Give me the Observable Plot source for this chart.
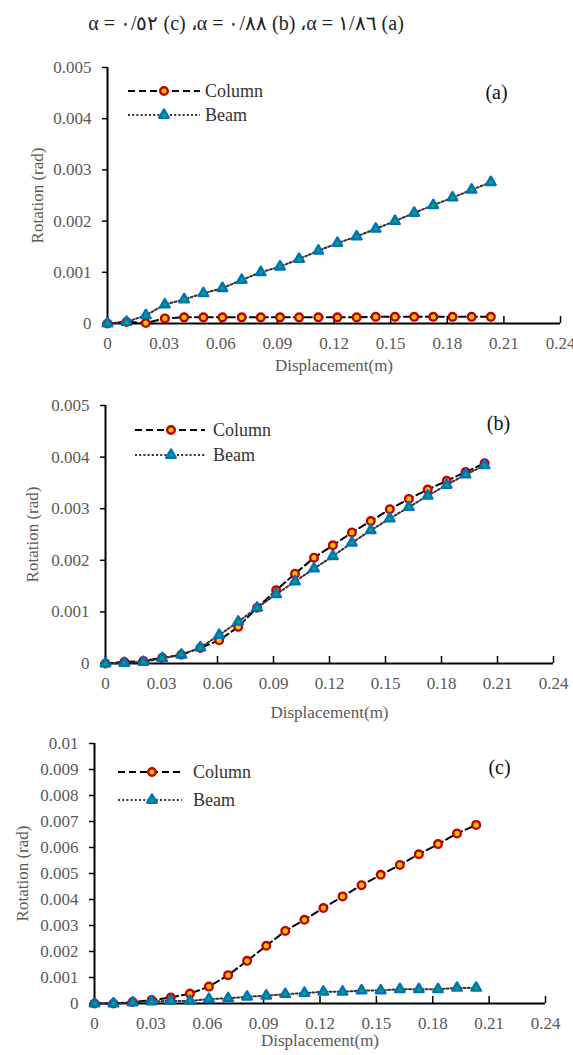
<!DOCTYPE html>
<html>
<head>
<meta charset="utf-8">
<script src="https://cdn.jsdelivr.net/npm/d3@7"></script>
<script src="https://cdn.jsdelivr.net/npm/@observablehq/plot@0.6"></script>
<style>
  html, body { margin: 0; padding: 0; background: #fff; }
  body { width: 573px; height: 1055px; position: relative; overflow: hidden; font-family: "Liberation Serif", "Times New Roman", serif; }
  #title { position: absolute; left: 0; top: 11px; width: 492px; text-align: center; font-size: 20px; color: #222; direction: ltr; unicode-bidi: bidi-override; white-space: nowrap; font-family: "Liberation Serif", "Times New Roman", "DejaVu Serif", serif; }
  .panel { position: absolute; left: 0; }
  .panel svg { overflow: visible; font-family: "Liberation Serif", "Times New Roman", serif !important; }
  .panel svg text { font-family: "Liberation Serif", "Times New Roman", serif !important; }
</style>
</head>
<body>
<div id="title">α = ٠/٥٢ (c) ،α = ٠/٨٨ (b) ،α = ١/٨٦ (a)</div>
<div id="pa" class="panel" style="top:50px"></div>
<div id="pb" class="panel" style="top:388px"></div>
<div id="pc" class="panel" style="top:726px"></div>
<script>
// ---------------- data ----------------
const displacement = [0, 0.0101, 0.0203, 0.0304, 0.0406, 0.0508, 0.0609, 0.0711, 0.0812, 0.0914, 0.1015,
  0.1117, 0.1218, 0.1320, 0.1421, 0.1523, 0.1625, 0.1726, 0.1828, 0.1929, 0.2031];

const columnA = [0, 0.00003, 0.00001, 0.0001, 0.00012, 0.00012, 0.00012, 0.00012, 0.00012, 0.00012, 0.00012,
  0.00012, 0.00012, 0.00012, 0.00013, 0.00013, 0.00013, 0.00013, 0.00013, 0.00013, 0.00013];
const beamA = [0, 0.00003, 0.00016, 0.00037, 0.00047, 0.00059, 0.00069, 0.00085, 0.001, 0.00111, 0.00126,
  0.00142, 0.00157, 0.0017, 0.00185, 0.002, 0.00216, 0.00231, 0.00246, 0.00261, 0.00276];

const columnB = [0, 0.00003, 0.00005, 0.00011, 0.00017, 0.0003, 0.00045, 0.00071, 0.00108, 0.00142, 0.00174,
  0.00205, 0.00229, 0.00254, 0.00276, 0.00299, 0.00319, 0.00337, 0.00354, 0.00371, 0.00388];
const beamB = [0, 0.00001, 0.00003, 0.0001, 0.00017, 0.00031, 0.00055, 0.00081, 0.00108, 0.00134, 0.00159,
  0.00184, 0.00208, 0.00234, 0.00258, 0.00281, 0.00303, 0.00325, 0.00346, 0.00366, 0.00384];

const columnC = [0, 0, 0.00006, 0.00013, 0.00023, 0.00038, 0.00065, 0.00109, 0.00164, 0.00222, 0.00279,
  0.00322, 0.00367, 0.00412, 0.00455, 0.00495, 0.00533, 0.00574, 0.00613, 0.00654, 0.00687];
const beamC = [0, 0, 0.00004, 0.00008, 0.0001, 0.0001, 0.00017, 0.0002, 0.00026, 0.0003, 0.00036,
  0.0004, 0.00045, 0.00045, 0.0005, 0.0005, 0.00055, 0.00055, 0.00055, 0.0006, 0.0006];

const seriesNames = ["Column", "Beam"];
const panelTags = ["(a)", "(b)", "(c)"];
const xTicks = [0, 0.03, 0.06, 0.09, 0.12, 0.15, 0.18, 0.21, 0.24];
const xTickLabels = ["0", "0.03", "0.06", "0.09", "0.12", "0.15", "0.18", "0.21", "0.24"];
const yTicksAB = [0, 0.001, 0.002, 0.003, 0.004, 0.005];
const yTickLabelsAB = ["0", "0.001", "0.002", "0.003", "0.004", "0.005"];
const yTicksC = [0, 0.001, 0.002, 0.003, 0.004, 0.005, 0.006, 0.007, 0.008, 0.009, 0.01];
const yTickLabelsC = ["0", "0.001", "0.002", "0.003", "0.004", "0.005", "0.006", "0.007", "0.008", "0.009", "0.01"];
const xTitle = "Displacement(m)";
const yTitle = "Rotation (rad)";

// ---------------- styles ----------------
const FONT = "'Liberation Serif', 'Times New Roman', serif";
const colStyle = {line: "#000", dash: "7,4", width: 2, symbol: "circle", r: 3.8, fill: "#FFC000", stroke: "#C00000", sw: 2.4};
const beamStyle = {line: "#333", dash: "2,2.2", width: 2, symbol: "triangle", r: 3.5, fill: "#00B050", stroke: "#0070C0", sw: 2.5};

function legendMark(cfg) {
  return (index, scales, values, dims) => {
    const g = d3.create("svg:g");
    const x0 = dims.marginLeft, y0 = dims.marginTop;
    [colStyle, beamStyle].forEach((s, i) => {
      const y = y0 + cfg.rows[i];
      g.append("line")
        .attr("x1", x0 + cfg.l1).attr("x2", x0 + cfg.l2).attr("y1", y).attr("y2", y)
        .attr("stroke", s.line).attr("stroke-width", s.width).attr("stroke-dasharray", s.dash);
      const type = s.symbol === "circle" ? d3.symbolCircle : d3.symbolTriangle;
      g.append("path")
        .attr("d", d3.symbol(type, Math.PI * s.r * s.r)())
        .attr("transform", `translate(${x0 + cfg.m},${y})`)
        .attr("fill", s.fill).attr("stroke", s.stroke).attr("stroke-width", s.sw)
        .attr("stroke-linejoin", "round");
      g.append("text")
        .attr("x", x0 + cfg.t).attr("y", y).attr("dy", "0.35em")
        .attr("text-anchor", "start")
        .attr("fill", "#333").attr("font-size", 18).attr("font-family", FONT)
        .text(seriesNames[i]);
    });
    return g.node();
  };
}

function panel(el, col, beam, yMax, yTicks, yLabels, tag, L) {
  const rowsC = displacement.map((d, i) => ({x: d, y: col[i]}));
  const rowsB = displacement.map((d, i) => ({x: d, y: beam[i]}));
  const plotH = L.height - L.mt - L.mb;
  const chart = Plot.plot({
    width: 573,
    height: L.height,
    marginTop: L.mt, marginBottom: L.mb, marginLeft: L.ml, marginRight: L.mr,
    style: {fontFamily: FONT, fontSize: "17px", color: "#595959", background: "transparent"},
    x: {domain: [0, 0.24]},
    y: {domain: [0, yMax]},
    marks: [
      Plot.axisY(yTicks, {tickSize: 5, tickPadding: 11, tickFormat: (d, i) => yLabels[i], stroke: "#000", strokeWidth: 1.5, fill: "#595959", label: null, fontSize: 17}),
      Plot.axisX(xTicks, {tickSize: 0, tickPadding: 13, tickFormat: (d, i) => xTickLabels[i], fill: "#595959", label: null, fontSize: 17}),
      Plot.tickX(xTicks, {x: d => d, insetTop: plotH - 7, stroke: "#000", strokeWidth: 1.5}),
      Plot.ruleX([0], {stroke: "#000", strokeWidth: 2}),
      Plot.ruleY([0], {stroke: "#000", strokeWidth: 2}),
      Plot.text([xTitle], {frameAnchor: "bottom", dy: L.xt, fill: "#595959", fontSize: 17, lineAnchor: "middle"}),
      Plot.text([yTitle], {frameAnchor: "left", dx: L.yt, rotate: -90, fill: "#595959", fontSize: 17, lineAnchor: "middle", textAnchor: "middle"}),
      Plot.text([tag], {frameAnchor: "top-right", dx: L.tagDx, dy: L.tagDy, fill: "#111", fontSize: 20, textAnchor: "middle", lineAnchor: "middle"}),
      Plot.line(rowsC, {x: "x", y: "y", stroke: colStyle.line, strokeWidth: colStyle.width, strokeDasharray: colStyle.dash}),
      Plot.dot(rowsC, {x: "x", y: "y", symbol: colStyle.symbol, r: colStyle.r, fill: colStyle.fill, stroke: colStyle.stroke, strokeWidth: colStyle.sw}),
      Plot.line(rowsB, {x: "x", y: "y", stroke: beamStyle.line, strokeWidth: beamStyle.width, strokeDasharray: beamStyle.dash}),
      Plot.dot(rowsB, {x: "x", y: "y", symbol: beamStyle.symbol, r: beamStyle.r, fill: beamStyle.fill, stroke: beamStyle.stroke, strokeWidth: beamStyle.sw, strokeLinejoin: "round"}),
      legendMark(L.legend)
    ]
  });
  document.getElementById(el).appendChild(chart);
}

panel("pa", columnA, beamA, 0.005, yTicksAB, yTickLabelsAB, panelTags[0],
  {height: 335, mt: 17, mb: 62, ml: 107, mr: 13, xt: 42, yt: -70, tagDx: -64, tagDy: 25,
   legend: {l1: 21, l2: 93, m: 57, t: 98, rows: [24, 48]}});
panel("pb", columnB, beamB, 0.005, yTicksAB, yTickLabelsAB, panelTags[1],
  {height: 334, mt: 17, mb: 59, ml: 105, mr: 20, xt: 49, yt: -73, tagDx: -55, tagDy: 18,
   legend: {l1: 30, l2: 100, m: 66, t: 108, rows: [25, 50]}});
panel("pc", columnC, beamC, 0.01, yTicksC, yTickLabelsC, panelTags[2],
  {height: 329, mt: 17, mb: 52, ml: 94, mr: 28, xt: 37, yt: -72, tagDx: -46, tagDy: 24,
   legend: {l1: 24, l2: 88, m: 58, t: 99, rows: [29, 57]}});
</script>
</body>
</html>
